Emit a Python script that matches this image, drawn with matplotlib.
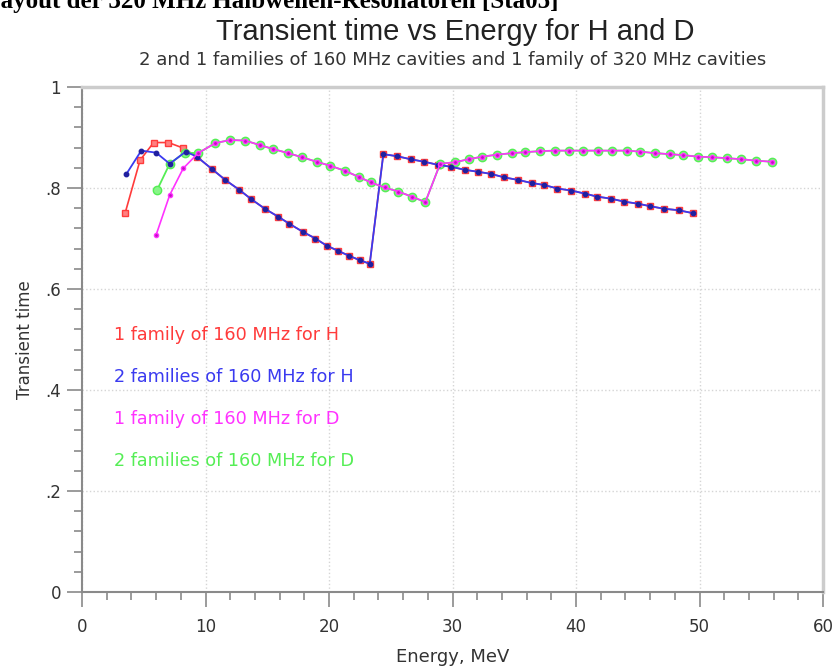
import matplotlib
matplotlib.use("Agg")
from matplotlib import pyplot as plt
from matplotlib.ticker import MultipleLocator

plt.rcParams['font.family'] = ['DejaVu Sans']

# --- data (Energy in MeV, transient time) ---
# H, 1 family of 160 MHz: head part only, tail shared with the 2-family curve
red_e = [3.5, 4.7, 5.8, 7.0, 8.2]
red_t = [0.751, 0.855, 0.890, 0.890, 0.879]

# H, 2 families of 160 MHz: head part
blue_e = [3.6, 4.8, 6.0, 7.1, 8.4]
blue_t = [0.828, 0.874, 0.870, 0.848, 0.872]

# common H tail (160 MHz part, then 320 MHz part)
h_tail_e = [9.3, 10.5, 11.6, 12.7, 13.7, 14.8, 15.9, 16.8, 17.9, 18.9, 19.8, 20.7, 21.6, 22.5, 23.3,
            24.4, 25.5, 26.6, 27.7, 28.8, 29.9, 31.0, 32.1, 33.1, 34.2, 35.3, 36.4, 37.4, 38.5,
            39.6, 40.7, 41.7, 42.8, 43.9, 45.0, 46.0, 47.1, 48.3, 49.5]
h_tail_t = [0.862, 0.838, 0.816, 0.797, 0.778, 0.759, 0.743, 0.729, 0.713, 0.700, 0.686, 0.676, 0.666, 0.657, 0.650,
            0.867, 0.863, 0.857, 0.852, 0.846, 0.842, 0.836, 0.832, 0.828, 0.821, 0.816, 0.810, 0.806, 0.799,
            0.795, 0.789, 0.783, 0.779, 0.773, 0.769, 0.764, 0.759, 0.756, 0.750]

# D, 1 family of 160 MHz: head part
magenta_e = [6.0, 7.1, 8.2]
magenta_t = [0.707, 0.786, 0.839]

# D, 2 families of 160 MHz: head part
green_e = [6.1, 7.1, 8.3]
green_t = [0.797, 0.848, 0.870]

# common D tail
d_tail_e = [9.4, 10.8, 12.0, 13.2, 14.4, 15.5, 16.7, 17.8, 19.0, 20.1, 21.3, 22.4, 23.4, 24.5, 25.6, 26.7, 27.8,
            29.0, 30.2, 31.3, 32.4, 33.6, 34.8, 35.9, 37.1, 38.3, 39.4, 40.6, 41.8, 42.9, 44.1, 45.2,
            46.4, 47.6, 48.7, 49.9, 51.0, 52.2, 53.4, 54.6, 55.9]
d_tail_t = [0.869, 0.889, 0.895, 0.894, 0.885, 0.877, 0.869, 0.861, 0.852, 0.844, 0.834, 0.822, 0.811, 0.801, 0.793, 0.783, 0.772,
            0.848, 0.851, 0.857, 0.862, 0.866, 0.869, 0.871, 0.873, 0.874, 0.874, 0.874, 0.874, 0.874, 0.874, 0.872,
            0.869, 0.867, 0.865, 0.862, 0.861, 0.859, 0.857, 0.854, 0.852]

legend_labels = ['1 family of 160 MHz for H', '2 families of 160 MHz for H',
                 '1 family of 160 MHz for D', '2 families of 160 MHz for D']
ytick_vals = [0, 0.2, 0.4, 0.6, 0.8, 1.0]
ytick_labels = ['0', '.2', '.4', '.6', '.8', '1']
xtick_vals = [0, 10, 20, 30, 40, 50, 60]

RED = '#ff3b3b'
BLUE = '#3a3af0'
MAGENTA = '#ff33ff'
GREEN = '#55ee55'
AXIS_GRAY = '#8a8a8a'
TEXT = '#333333'

fig = plt.figure(figsize=(8.36, 6.66), dpi=100)
ax = fig.add_axes([82 / 836, 74 / 666, 741 / 836, 505 / 666])

ax.plot(red_e + h_tail_e, red_t + h_tail_t, color=RED, lw=1.2, marker='s', ms=5,
        mfc='#ff8080', mec=RED, mew=1, zorder=3)
ax.plot(blue_e + h_tail_e, blue_t + h_tail_t, color=BLUE, lw=1.3, marker='o', ms=3.2,
        mfc='#2020a0', mec='#2020a0', zorder=4)
ax.plot(green_e + d_tail_e, green_t + d_tail_t, color=GREEN, lw=1.3, marker='o', ms=6,
        mfc='#88f588', mec=GREEN, mew=1, zorder=3)
ax.plot(magenta_e + d_tail_e, magenta_t + d_tail_t, color=MAGENTA, lw=1.2, marker='o', ms=3,
        mfc='#c010c0', mec=MAGENTA, zorder=4)

# legend written as coloured text inside the plot
for i, (lab, col) in enumerate(zip(legend_labels, [RED, BLUE, MAGENTA, GREEN])):
    ax.text(2.6, 0.508 - i * 0.083, lab, color=col, fontsize=12.7, va='center', ha='left')

ax.set_xlim(0, 60)
ax.set_ylim(0, 1)
ax.set_xticks(xtick_vals)
ax.set_yticks(ytick_vals)
ax.set_yticklabels(ytick_labels)
ax.xaxis.set_minor_locator(MultipleLocator(2))
ax.yaxis.set_minor_locator(MultipleLocator(0.04))
ax.tick_params(which='major', direction='out', length=11, width=1.2, color=AXIS_GRAY,
               labelsize=12, labelcolor=TEXT)
ax.tick_params(axis='x', which='major', pad=8)
ax.tick_params(axis='y', which='major', pad=4)
ax.tick_params(which='minor', direction='out', length=6, width=1.2, color=AXIS_GRAY)
ax.grid(True, which='major', color='#d5d5d5', linestyle=':', linewidth=1)

for side in ['left', 'bottom']:
    ax.spines[side].set_color(AXIS_GRAY)
    ax.spines[side].set_linewidth(1.5)
for side in ['top', 'right']:
    ax.spines[side].set_color('#cccccc')
    ax.spines[side].set_linewidth(2.5)

ax.set_xlabel('Energy, MeV', fontsize=13, color=TEXT, labelpad=8)
ax.set_ylabel('Transient time', fontsize=12, color=TEXT, labelpad=8)

fig.text(455 / 836, 1 - 40 / 666, 'Transient time vs Energy for H and D', fontsize=21,
         family=['Liberation Sans', 'DejaVu Sans'], ha='center', va='baseline', color='#222222')
fig.text(453 / 836, 1 - 65 / 666,
         '2 and 1 families of 160 MHz cavities and 1 family of 320 MHz cavities',
         fontsize=13, ha='center', va='baseline', color=TEXT)
# page heading cut off at the top of the screenshot
fig.text(-16 / 836, 1 - 8 / 666, 'Layout der 320 MHz Halbwellen-Resonatoren [Sta05]',
         family=['Liberation Serif', 'DejaVu Serif'], fontweight='bold', fontsize=18,
         ha='left', va='baseline', color='black')

fig.savefig('out.png', dpi=100)
